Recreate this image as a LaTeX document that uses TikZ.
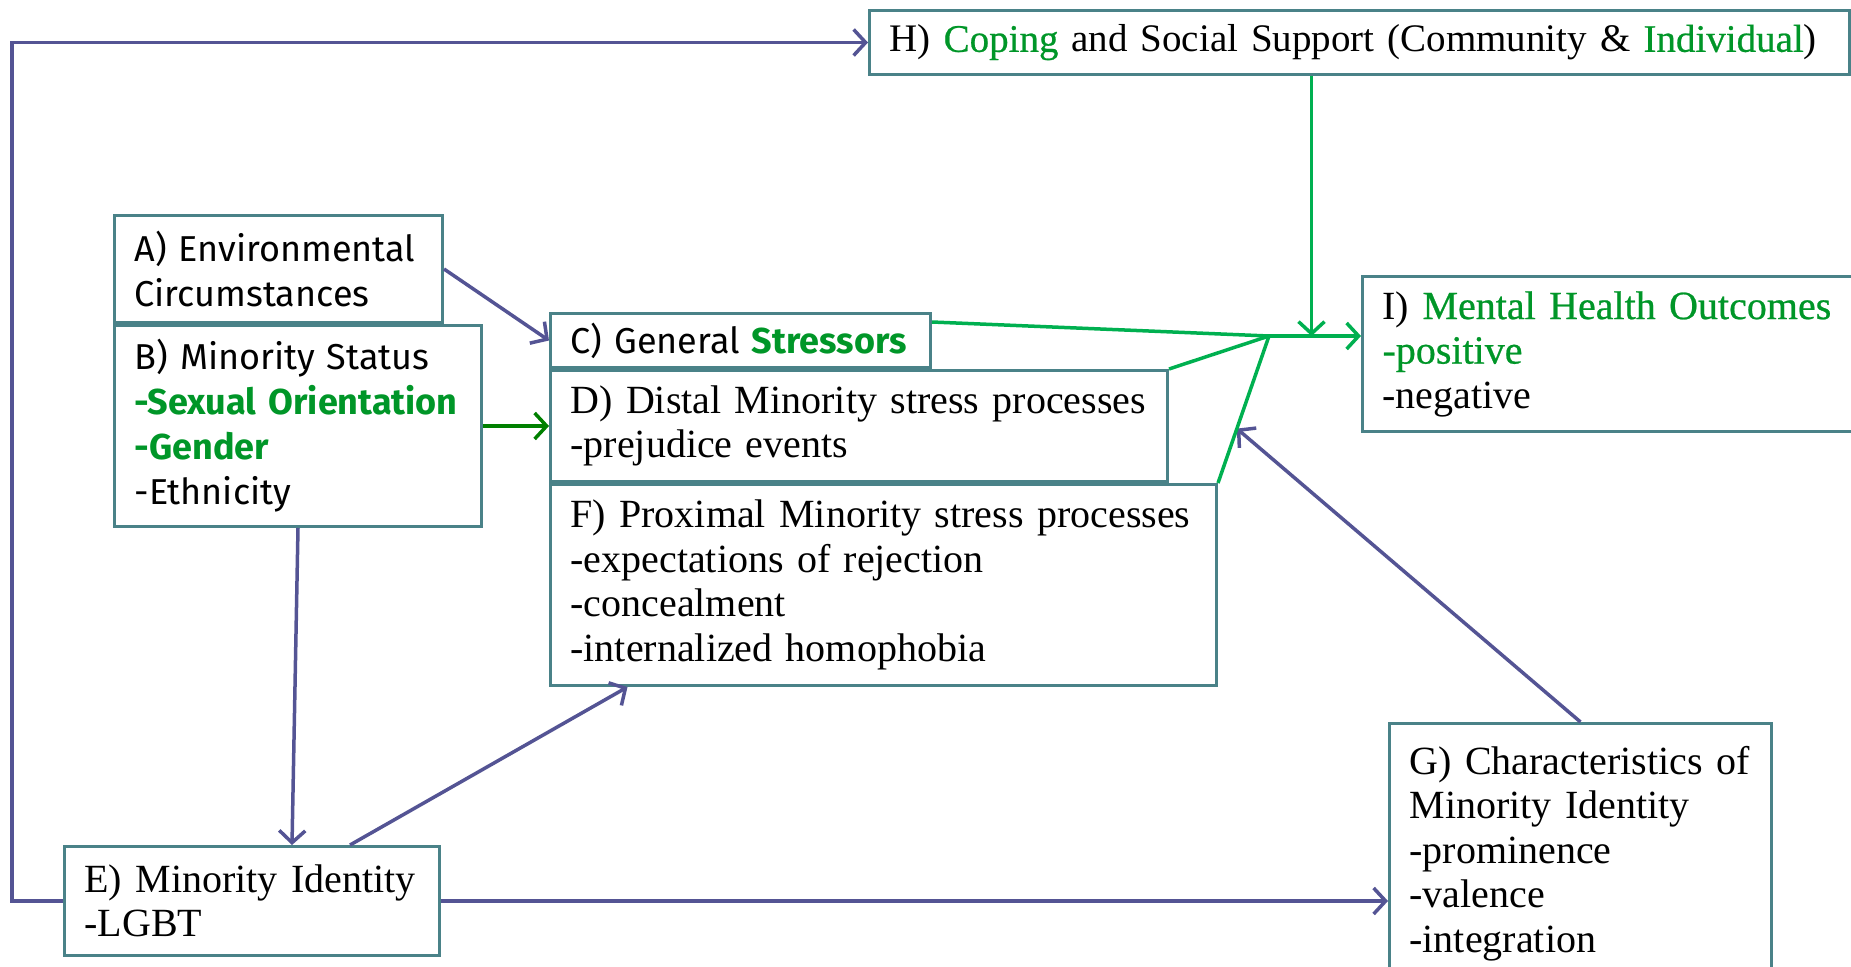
\documentclass[tikz,border=0pt]{standalone}
\usepackage{fontspec}
\setmainfont{Liberation Serif}
\setsansfont{Fira Sans}
\newfontfamily\boldserif[FakeBold=0.6]{Liberation Serif}
\usepackage{xcolor}
\usetikzlibrary{shapes,arrows.meta,positioning,calc}
\definecolor{boxline}{RGB}{74,130,136}
\definecolor{arrowblue}{RGB}{84,84,148}
\definecolor{arrowgreen}{RGB}{0,176,80}
\definecolor{darkgreen}{RGB}{0,128,0}
\definecolor{textgreen}{RGB}{0,150,40}
\tikzstyle{box} = [rectangle, draw=boxline, line width=3pt, fill=white, align=left,
    inner xsep=20pt, inner ysep=0pt]
\tikzstyle{serifbox} = [box, font=\fontsize{40}{44.5}\selectfont]
\tikzstyle{sansbox} = [box, font=\sffamily\fontsize{36}{45}\selectfont]
\tikzstyle{line} = [draw=arrowblue, line width=3.5pt, -{Straight Barb[length=12pt,width=26pt]}]
\tikzstyle{gline} = [draw=arrowgreen, line width=3.5pt]
\tikzstyle{garrow} = [gline, -{Straight Barb[length=12pt,width=26pt]}]
\newcommand{\grn}[1]{{\color{textgreen}\boldserif #1}}
\newcommand{\sgrn}[1]{{\color{textgreen}\bfseries #1}}

\begin{document}
\begin{tikzpicture}[x=1pt,y=-1pt]
    \useasboundingbox (0,0) rectangle (1851,966);
      \node [serifbox, font=\fontsize{39}{44.5}\selectfont, anchor=north west, text width=940pt, minimum height=64pt] (H) at (868,9)
        {H) \grn{Coping} and Social Support (Community \& \grn{Individual})};
      \node [sansbox, anchor=north west, text width=288pt, minimum height=107pt] (A) at (113,214)
        {A) Environmental\\Circumstances};
      \node [sansbox, below=0pt of A.south west, anchor=north west, text width=327pt, minimum height=201pt] (B)
        {B) Minority Status\\\sgrn{-Sexual Orientation}\\\sgrn{-Gender}\\-Ethnicity};
      \node [sansbox, anchor=north west, text width=340pt, minimum height=54pt] (C) at (549,312)
        {C) General \sgrn{Stressors}};
      \node [serifbox, below=0pt of C.south west, anchor=north west, text width=577pt, minimum height=111pt] (D)
        {D) Distal Minority stress processes\\-prejudice events};
      \node [serifbox, below=0pt of D.south west, anchor=north west, text width=626pt, minimum height=201pt] (F)
        {F) Proximal Minority stress processes\\-expectations of rejection\\-concealment\\-internalized homophobia};
      \node [serifbox, anchor=north west, text width=480pt, minimum height=155pt] (I) at (1361,275)
        {I) \grn{Mental Health Outcomes}\\\grn{-positive}\\-negative};
      \node [serifbox, anchor=north west, text width=335pt, minimum height=109pt] (E) at (63,845)
        {E) Minority Identity\\-LGBT};
      \node [serifbox, anchor=north west, text width=342pt, minimum height=260pt] (G) at (1388,722)
        {G) Characteristics of\\Minority Identity\\-prominence\\-valence\\-integration};

      \coordinate (hub) at (1269,336);
      \coordinate (hdrop) at ([xshift=-48pt]H.south);

      \path [line] (E.west) -- ++(-51,0) |- (H.west);
      \path [line] (A.east) -- (C.west);
      \path [line, draw=darkgreen] (B.east) -- (D.west);
      \path [line] (B.south) -- ([xshift=40pt]E.north);
      \path [line] ([xshift=98pt]E.north) -- ([xshift=-256pt]F.south);
      \path [line] (E.east) -- (E.east -| G.west);
      \path [line] (G.north) -- ($(F.north east)!0.37!(hub)$);

      \path [gline] ([yshift=-10pt]C.north east) -- (hub);
      \path [gline] (D.north east) -- (hub);
      \path [gline] (F.north east) -- (hub);
      \path [garrow] (hub) -- (hub -| I.west);
      \path [garrow] (hdrop) -- (hdrop |- hub);
\end{tikzpicture}
\end{document}
